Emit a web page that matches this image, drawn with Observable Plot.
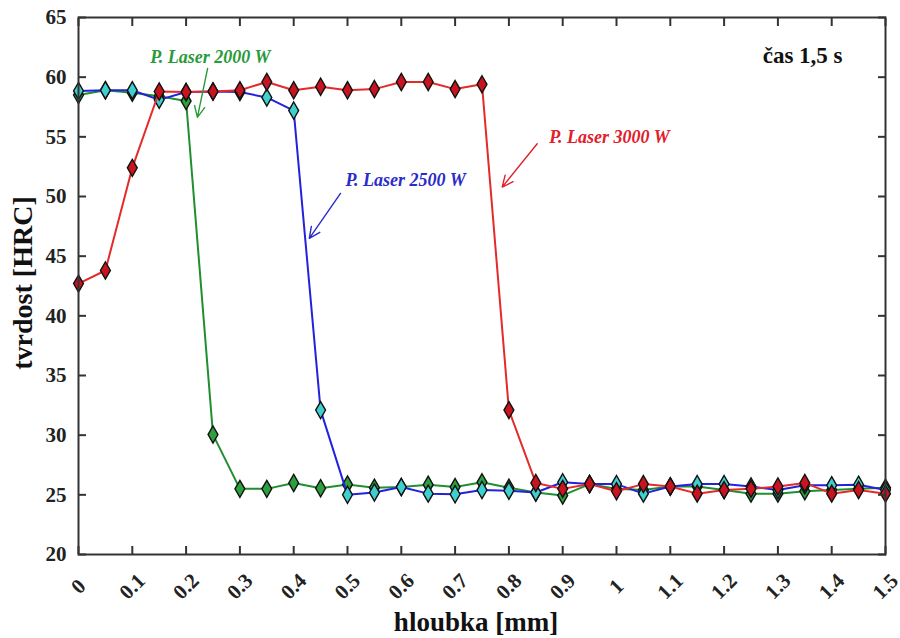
<!DOCTYPE html>
<html><head><meta charset="utf-8">
<script src="https://cdn.jsdelivr.net/npm/d3@7"></script>
<script src="https://cdn.jsdelivr.net/npm/@observablehq/plot@0.6"></script>
<style>body{margin:0;background:#fff}</style>
</head><body><div id="chart"></div>
<script>
const depth = [0,0.05,0.1,0.15,0.2,0.25,0.3,0.35,0.4,0.45,0.5,0.55,0.6,0.65,0.7,0.75,0.8,0.85,0.9,0.95,1.0,1.05,1.1,1.15,1.2,1.25,1.3,1.35,1.4,1.45,1.5];
const hrc2000 = [58.5,58.9,58.7,58.4,58.0,30.05,25.5,25.5,26.0,25.55,25.87,25.6,25.65,25.85,25.65,26.05,25.6,25.2,24.95,25.9,25.5,25.4,25.7,25.7,25.4,25.1,25.1,25.3,25.4,25.5,25.6];
const hrc2500 = [58.85,58.9,58.9,58.1,58.75,58.8,58.75,58.3,57.2,32.1,25.0,25.2,25.65,25.1,25.05,25.4,25.35,25.2,26.05,25.9,25.9,25.1,25.7,25.9,25.9,25.7,25.4,25.8,25.8,25.85,25.4];
const hrc3000 = [42.7,43.8,52.4,58.8,58.75,58.8,58.9,59.6,58.9,59.2,58.9,59.0,59.6,59.6,59.0,59.4,32.1,26.0,25.5,25.9,25.3,25.9,25.7,25.1,25.4,25.5,25.7,26.0,25.1,25.4,25.1];
const xTicks = [0,0.1,0.2,0.3,0.4,0.5,0.6,0.7,0.8,0.9,1,1.1,1.2,1.3,1.4,1.5];
const yTicks = [20,25,30,35,40,45,50,55,60,65];
const seriesNames = ["P. Laser 2000 W","P. Laser 2500 W","P. Laser 3000 W"];
const lineColors = ["#1f8f2f","#2222dd","#e42a2a"];
const markerColors = ["#2ca03c","#3fcfcf","#c8141e"];
const textColors = ["#2a9a3a","#2b2bc8","#e0202a"];
const labelX = [0.245,0.608,0.987];
const labelY = [61.7,51.35,54.98];
const arrowX1 = [0.240,0.487,0.8526];
const arrowY1 = [60.74,50.26,54.42];
const arrowX2 = [0.221,0.429,0.7875];
const arrowY2 = [56.63,46.49,50.79];
const noteText = "čas 1,5 s";
const noteX = 1.346, noteY = 61.83;
const xLabel = "hloubka [mm]";
const yLabel = "tvrdost [HRC]";

const allSeries = [hrc2000, hrc2500, hrc3000];
const seriesMarks = [];
allSeries.forEach((vals, s) => {
  const rows = depth.map((d, i) => ({x: d, y: vals[i]}));
  seriesMarks.push(Plot.line(rows, {x: "x", y: "y", stroke: lineColors[s], strokeWidth: 2}));
  seriesMarks.push(Plot.dot(rows, {x: "x", y: "y", symbol: "diamond", r: 5.2, fill: markerColors[s], stroke: "#111", strokeWidth: 1.4}));
});
const idx = [0,1,2];
const font = "Liberation Serif, Times New Roman, serif";

const chart = Plot.plot({
  width: 900, height: 638,
  marginLeft: 78, marginRight: 15, marginTop: 17, marginBottom: 84,
  style: {fontFamily: font, background: "#fff"},
  x: {domain: [0, 1.5]},
  y: {domain: [20, 65]},
  marks: [
    ...seriesMarks,
    Plot.arrow(idx, {x1: i => arrowX1[i], y1: i => arrowY1[i], x2: i => arrowX2[i], y2: i => arrowY2[i], stroke: i => textColors[i], strokeWidth: 1.4, headLength: 13, headAngle: 50}),
    Plot.text(idx, {x: i => labelX[i], y: i => labelY[i], text: i => seriesNames[i], fill: i => textColors[i], fontSize: 18, fontStyle: "italic", fontWeight: "bold"}),
    Plot.text([noteText], {x: noteX, y: noteY, text: d => d, fontSize: 23, fontWeight: "bold", fill: "#111"}),
    Plot.axisX({ticks: xTicks, tickSize: 0, tickPadding: 32, tickRotate: -45, textAnchor: "middle", lineAnchor: "middle", tickFormat: d => String(d), fontSize: 21, fontWeight: "bold", fill: "#222", label: null}),
    Plot.axisX({ticks: xTicks, tickSize: -8, fill: "none", label: null, stroke: "#333", strokeWidth: 2}),
    Plot.axisX({anchor: "top", ticks: xTicks, tickSize: -8, fill: "none", label: null, stroke: "#333", strokeWidth: 2}),
    Plot.axisY({ticks: yTicks, tickSize: 0, tickPadding: 12, fontSize: 21, fontWeight: "bold", fill: "#222", label: null}),
    Plot.axisY({ticks: yTicks, tickSize: -8, fill: "none", label: null, stroke: "#333", strokeWidth: 2}),
    Plot.axisY({anchor: "right", ticks: yTicks, tickSize: -8, fill: "none", label: null, stroke: "#333", strokeWidth: 2}),
    Plot.frame({stroke: "#333", strokeWidth: 2}),
    Plot.text([xLabel], {frameAnchor: "bottom", dx: -6, dy: 68, text: d => d, fontSize: 27, fontWeight: "bold", fill: "#111", textAnchor: "middle", lineAnchor: "middle"}),
    Plot.text([yLabel], {frameAnchor: "left", dx: -55, dy: -3, rotate: -90, text: d => d, fontSize: 28, fontWeight: "bold", fill: "#111", textAnchor: "middle", lineAnchor: "middle"})
  ]
});
document.getElementById("chart").appendChild(chart);
</script>
</body></html>
